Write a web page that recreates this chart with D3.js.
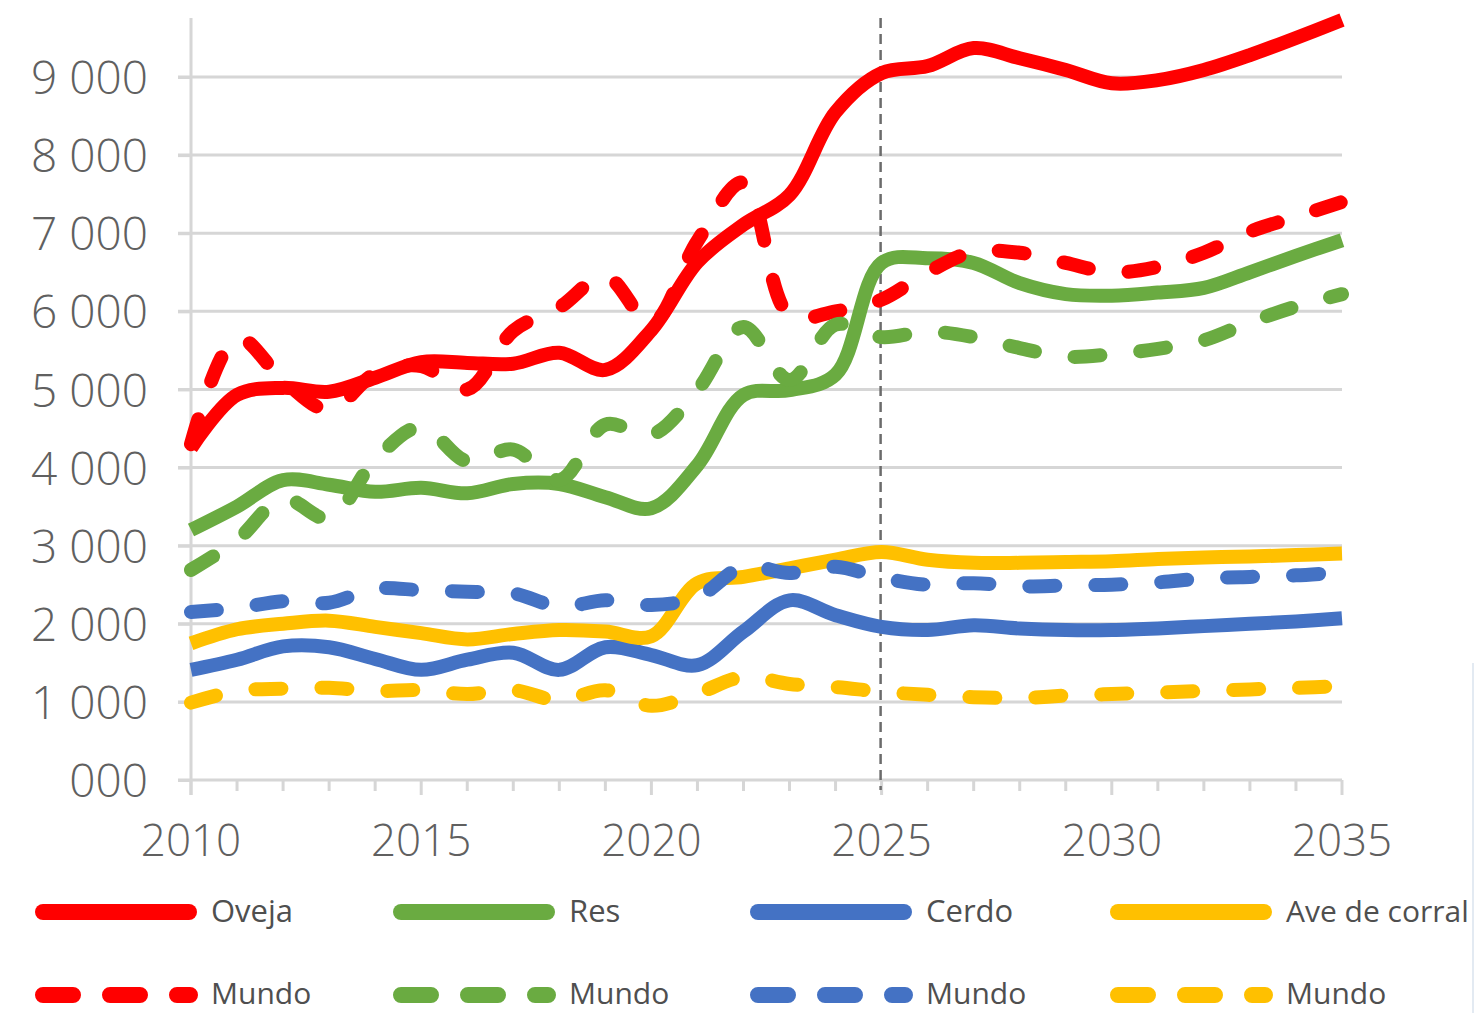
<!DOCTYPE html>
<html>
<head>
<meta charset="utf-8">
<script src="https://cdn.jsdelivr.net/npm/d3@7"></script>
<style>
  html, body { margin: 0; padding: 0; background: #fff; }
  svg { display: block; font-family: 'Open Sans', sans-serif; font-weight: 300; }
</style>
</head>
<body>
<div id="chart"></div>
<script>
const years = [2010, 2011, 2012, 2013, 2014, 2015, 2016, 2017, 2018, 2019, 2020, 2021, 2022,
  2023, 2024, 2025, 2026, 2027, 2028, 2029, 2030, 2031, 2032, 2033, 2034, 2035];

const oveja = [4250, 4930, 5020, 4970, 5150, 5350, 5340, 5330, 5470, 5250, 5760, 6630, 7110,
  7490, 8550, 9050, 9140, 9370, 9240, 9090, 8920, 8960, 9090, 9280, 9500, 9730];
const ovejaMundo = [4300, 5660, 5120, 4740, 5200, 5300, 5000, 5750, 6050, 6450, 5850, 6900, 7650,
  5950, 6000, 6150, 6500, 6760, 6750, 6620, 6500, 6570, 6750, 7020, 7210, 7400];
const res = [3200, 3500, 3840, 3780, 3690, 3740, 3670, 3790, 3790, 3620, 3480, 4030, 4930,
  4990, 5190, 6620, 6680, 6620, 6360, 6220, 6200, 6240, 6300, 6500, 6710, 6910];
const resMundo = [2690, 3070, 3600, 3350, 4100, 4520, 4080, 4230, 3840, 4550, 4420, 4990, 5800,
  5120, 5830, 5670, 5740, 5670, 5530, 5420, 5450, 5520, 5630, 5860, 6060, 6220];
const cerdo = [1410, 1540, 1710, 1700, 1550, 1410, 1540, 1630, 1410, 1700, 1600, 1470, 1900,
  2300, 2110, 1960, 1920, 1980, 1940, 1920, 1920, 1940, 1970, 2000, 2030, 2070];
const cerdoMundo = [2150, 2200, 2290, 2270, 2450, 2430, 2410, 2390, 2220, 2300, 2240, 2340, 2730,
  2650, 2730, 2590, 2500, 2520, 2480, 2490, 2500, 2530, 2580, 2600, 2620, 2660];
const ave = [1750, 1930, 2000, 2040, 1960, 1880, 1800, 1870, 1920, 1900, 1840, 2520, 2600,
  2710, 2820, 2920, 2820, 2780, 2780, 2790, 2800, 2830, 2850, 2860, 2880, 2900];
const aveMundo = [990, 1140, 1170, 1180, 1140, 1150, 1100, 1150, 1020, 1150, 950, 1110, 1320,
  1230, 1190, 1130, 1090, 1060, 1050, 1080, 1100, 1120, 1140, 1160, 1180, 1200];

const yTicks = [0, 1000, 2000, 3000, 4000, 5000, 6000, 7000, 8000, 9000];
const xLabels = [2010, 2015, 2020, 2025, 2030, 2035];
const projectionYear = 2025;

const seriesNames = ['Oveja', 'Res', 'Cerdo', 'Ave de corral'];
const colors = ['#ff0000', '#6aab41', '#4472c4', '#ffc000'];
const solids = [oveja, res, cerdo, ave];
const worlds = [ovejaMundo, resMundo, cerdoMundo, aveMundo];

const width = 1476, height = 1013;
const x = d3.scaleLinear().domain([2010, 2035]).range([191, 1342]);
const y = d3.scaleLinear().domain([0, 9000]).range([780, 77]);

const svg = d3.select('#chart').append('svg')
  .attr('width', width)
  .attr('height', height);

const grey = '#d6d6d6';

// gridlines
svg.append('g')
  .selectAll('line')
  .data(yTicks.slice(1))
  .join('line')
  .attr('x1', 178).attr('x2', x(2035))
  .attr('y1', d => y(d)).attr('y2', d => y(d))
  .attr('stroke', grey).attr('stroke-width', 3);

// y axis
const yAxis = svg.append('g')
  .attr('transform', `translate(${x(2010)},0)`)
  .call(d3.axisLeft(y).tickValues(yTicks).tickSize(13).tickPadding(30)
    .tickFormat(d => d === 0 ? '000' : d3.format(',')(d).replace(',', ' ')));
yAxis.select('.domain').remove();
yAxis.selectAll('line').attr('stroke', grey).attr('stroke-width', 3);
yAxis.selectAll('text')
  .attr('font-size', 46).attr('fill', '#606060').attr('dy', '0.36em')
  .attr('font-family', "'Open Sans', sans-serif")
  .attr('font-weight', 300);

svg.append('line')
  .attr('x1', x(2010)).attr('x2', x(2010))
  .attr('y1', 18).attr('y2', 795)
  .attr('stroke', grey).attr('stroke-width', 3);

// x axis
svg.append('line')
  .attr('x1', 178).attr('x2', x(2035))
  .attr('y1', y(0)).attr('y2', y(0))
  .attr('stroke', grey).attr('stroke-width', 3);

svg.append('g')
  .selectAll('line')
  .data(years)
  .join('line')
  .attr('x1', d => x(d)).attr('x2', d => x(d))
  .attr('y1', y(0))
  .attr('y2', d => y(0) + (xLabels.includes(d) ? 15 : 11))
  .attr('stroke', grey).attr('stroke-width', 3);

svg.append('g')
  .selectAll('text')
  .data(xLabels)
  .join('text')
  .attr('x', d => x(d))
  .attr('y', 856)
  .attr('text-anchor', 'middle')
  .attr('font-size', 44)
  .attr('fill', '#606060')
  .text(d => d);

// projection marker
svg.append('line')
  .attr('x1', x(projectionYear) - 1).attr('x2', x(projectionYear) - 1)
  .attr('y1', 18).attr('y2', 790)
  .attr('stroke', '#6b6b6b').attr('stroke-width', 2.5)
  .attr('stroke-dasharray', '10 6');

// series
const line = d3.line()
  .x((d, i) => x(years[i]))
  .y(d => y(d))
  .curve(d3.curveCatmullRom.alpha(0.5));

const lines = svg.append('g').attr('fill', 'none').attr('stroke-width', 14);

solids.forEach((vals, i) => {
  lines.append('path')
    .attr('d', line(vals))
    .attr('stroke', colors[i])
    .attr('stroke-linejoin', 'round');
});

worlds.forEach((vals, i) => {
  lines.append('path')
    .attr('d', line(vals))
    .attr('stroke', colors[i])
    .attr('stroke-linecap', 'round')
    .attr('stroke-linejoin', 'round')
    .attr('stroke-dasharray', '26 40');
});

// legend
const legendX = [35, 393, 750, 1110];
const legend = svg.append('g').attr('font-weight', 400);

seriesNames.forEach((name, i) => {
  const g = legend.append('g').attr('transform', `translate(${legendX[i]},0)`);
  g.append('line')
    .attr('x1', 8).attr('x2', 154)
    .attr('y1', 912).attr('y2', 912)
    .attr('stroke', colors[i]).attr('stroke-width', 16)
    .attr('stroke-linecap', 'round');
  g.append('text')
    .attr('x', 176).attr('y', 922)
    .attr('font-size', i === 3 ? 30 : 31).attr('fill', '#4f4f4f')
    .text(name);

  g.append('line')
    .attr('x1', 8).attr('x2', 155)
    .attr('y1', 995).attr('y2', 995)
    .attr('stroke', colors[i]).attr('stroke-width', 16)
    .attr('stroke-linecap', 'round')
    .attr('stroke-dasharray', '30 37');
  g.append('text')
    .attr('x', 176).attr('y', 1004)
    .attr('font-size', 30).attr('fill', '#4f4f4f')
    .text('Mundo');
});

// faint frame edge on the right
svg.append('line')
  .attr('x1', 1473).attr('x2', 1473)
  .attr('y1', 663).attr('y2', height)
  .attr('stroke', '#e3eaf2').attr('stroke-width', 2);
</script>
</body>
</html>
